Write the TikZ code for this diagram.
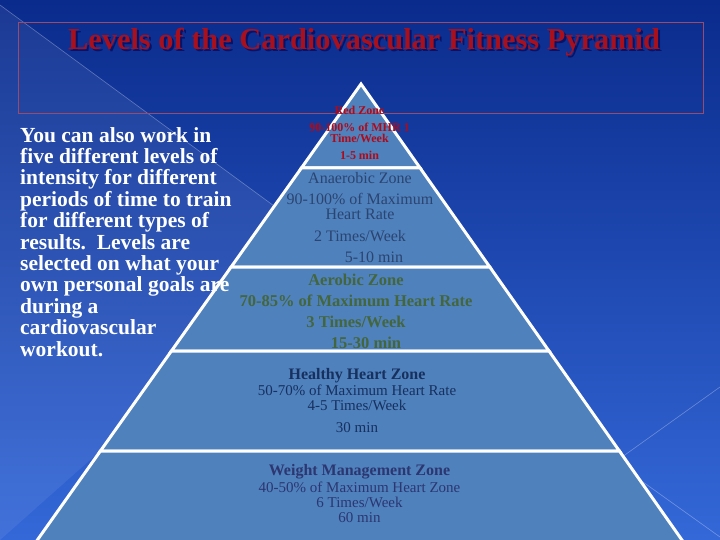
\documentclass[tikz,border=0pt]{standalone}
\usepackage{fontspec}
\setmainfont{Liberation Serif}
\usepackage{xcolor}
\usetikzlibrary{positioning}
\definecolor{bgtop}{HTML}{0A2B8C}
\definecolor{bgbot}{HTML}{3468D8}
\definecolor{bandfill}{HTML}{4F81BD}
\definecolor{titlered}{HTML}{A8101E}
\definecolor{framecol}{HTML}{9C4A6A}
\definecolor{redzonecol}{HTML}{B00A18}
\definecolor{anaercol}{HTML}{2B4470}
\definecolor{aercol}{HTML}{44663C}
\definecolor{healthcol}{HTML}{17305E}
\definecolor{weightcol}{HTML}{2C3670}
\tikzset{
  band/.style={fill=bandfill,draw=white,line width=3pt,line join=miter},
  zonetext/.style={align=center,inner sep=0pt,anchor=base},
  sideline/.style={draw=white,opacity=0.3,line width=0.6pt},
  titletext/.style={inner sep=0pt,anchor=base,
    font=\fontsize{30.4}{32}\selectfont\bfseries}
}
\begin{document}
\begin{tikzpicture}[x=1pt,y=-1pt]
  \useasboundingbox (0,0) rectangle (720,540);
  \clip (0,0) rectangle (720,540);
  \shade[top color=bgtop,bottom color=bgbot] (0,0) rectangle (720,540);
  \fill[white,opacity=0.07] (0,5) -- (330,247) -- (0,540) -- cycle;
  \draw[sideline] (0,5) -- (330,247);
  \draw[sideline] (615,462) -- (720,387);
  \draw[sideline] (615,462) -- (720,537);

  \draw[band] (361,84) -- (420.1,168) -- (301.4,168) -- cycle;
  \draw[band] (301.4,168) -- (420.1,168) -- (489.8,267) -- (231.1,267) -- cycle;
  \draw[band] (231.1,267) -- (489.8,267) -- (549.0,351) -- (171.4,351) -- cycle;
  \draw[band] (171.4,351) -- (549.0,351) -- (619.4,451) -- (100.4,451) -- cycle;
  \draw[band] (100.4,451) -- (619.4,451) -- (694.6,558) -- (24.6,558) -- cycle;

  \draw[framecol,line width=0.9pt] (18,22) rectangle (703,113);

  \node[titletext,text=black!70!blue,opacity=0.6] (titleshadow) at (366,52)
    {Levels of the Cardiovascular Fitness Pyramid};
  \node[titletext,text=titlered] (title) at (364,50)
    {Levels of the Cardiovascular Fitness Pyramid};

  \node[inner sep=0pt,anchor=base west,align=left,text=white,
    font=\fontsize{21.5}{21.4}\selectfont\bfseries] (intro) at (20,356)
    {You can also work in\\ five different levels of\\ intensity for different\\
     periods of time to train\\ for different types of\\ results.\ \ Levels are\\
     selected on what your\\ own personal goals are\\ during a\\
     cardiovascular\\ workout.};

  \node[zonetext,text=redzonecol,font=\fontsize{12}{11}\selectfont\bfseries]
    (red) at (359.5,160)
    {Red Zone\\[6pt] 90-100\% of MHR 1\\ Time/Week\\[6pt] 1-5 min};
  \node[zonetext,text=anaercol,font=\fontsize{16}{15}\selectfont]
    (anaerobic) at (360,262)
    {Anaerobic Zone\\[6pt] 90-100\% of Maximum\\ Heart Rate\\[7pt]
     2 Times/Week\\[6pt] \hspace*{28pt}5-10 min};
  \node[zonetext,text=aercol,font=\fontsize{16.5}{20.7}\selectfont\bfseries]
    (aerobic) at (356,348)
    {Aerobic Zone\\ 70-85\% of Maximum Heart Rate\\ 3 Times/Week\\
     \hspace*{20pt}15-30 min};
  \node[zonetext,text=healthcol,font=\fontsize{15}{15}\selectfont]
    (healthy) at (357,432)
    {\fontsize{16}{15}\selectfont\bfseries Healthy Heart Zone\\[1pt]
     50-70\% of Maximum Heart Rate\\ 4-5 Times/Week\\[7pt] 30 min};
  \node[zonetext,text=weightcol,font=\fontsize{15}{15}\selectfont]
    (weight) at (359.5,522)
    {\fontsize{16}{15}\selectfont\bfseries Weight Management Zone\\[2pt]
     40-50\% of Maximum Heart Zone\\ 6 Times/Week\\ 60 min};
\end{tikzpicture}
\end{document}
